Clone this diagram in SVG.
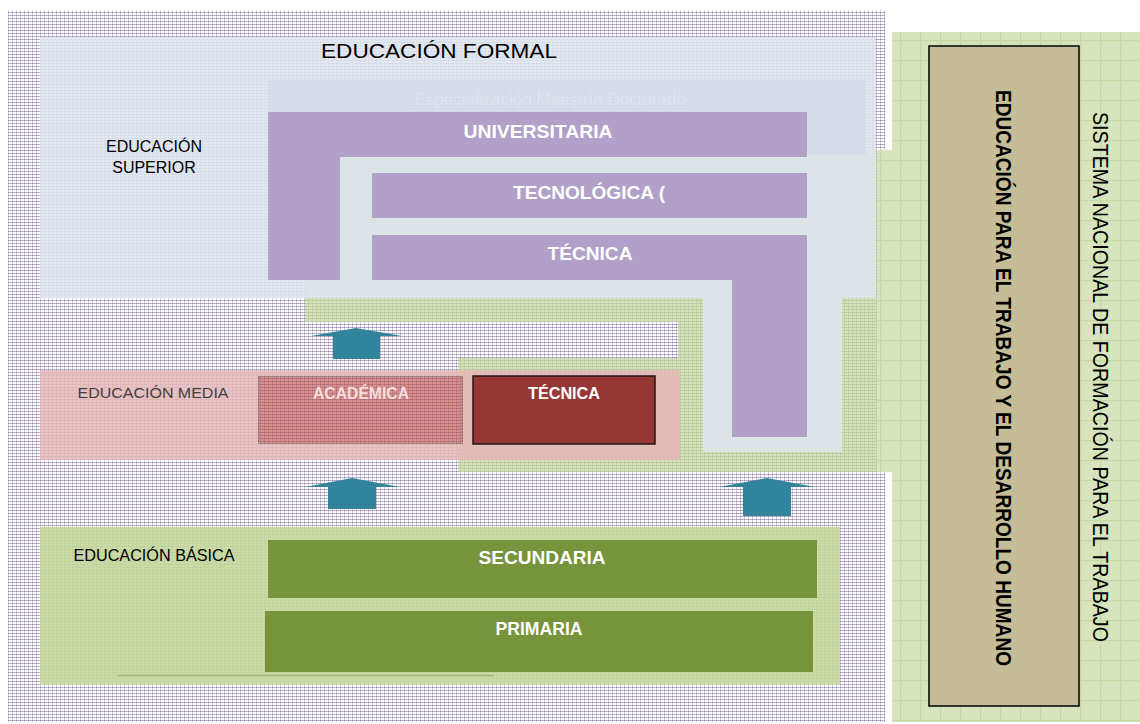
<svg xmlns="http://www.w3.org/2000/svg" width="1140" height="724" viewBox="0 0 1140 724">
<defs>
<pattern id="tex" width="4" height="3" patternUnits="userSpaceOnUse">
<rect width="4" height="3" fill="#ffffff"/>
<rect x="0" y="0" width="4" height="1" fill="#c4bdd2"/>
<rect x="0" y="0" width="1" height="3" fill="#d2ccdd"/>
<rect x="0" y="0" width="1" height="1" fill="#8f86a6"/>
<rect x="2" y="0" width="1" height="1" fill="#a69ebb"/>
</pattern>
<pattern id="gridg" width="20" height="20" patternUnits="userSpaceOnUse">
<rect width="20" height="20" fill="#d7e4bd"/>
<rect x="0" y="0" width="20" height="1.2" fill="#c6d8a3"/>
<rect x="0" y="0" width="1.2" height="20" fill="#c6d8a3"/>
</pattern>
<style>
.lbl{font-family:"Liberation Sans",Arial,sans-serif;fill:#000}
.bw{font-family:"Liberation Sans",Arial,sans-serif;font-weight:bold;fill:#ffffff;text-anchor:middle}
.purple{fill:#b1a0c7}
.olive{fill:#77933c}
</style>
</defs>
<rect width="1140" height="724" fill="#ffffff"/>
<rect x="8" y="10" width="877" height="712" fill="url(#tex)"/>

<!-- green layer behind -->
<path d="M305,150 H885 V472 H458 V358 H678 V322 H305 Z" fill="#c4d79b" opacity="0.72"/>

<g id="educacion-formal">
<path d="M40,37 H876 V298 H842 V452 H703 V298 H40 Z" fill="#dde5ee" opacity="0.88"/>
<path d="M268,80 H866 V155 H807 V112 H268 Z" fill="#d3d7e8" opacity="0.6"/>
<text x="550" y="105" font-family="Liberation Sans, Arial, sans-serif" font-size="17" fill="#e4e8f2" text-anchor="middle" opacity="0.6">Especialización Maestría Doctorado</text>
<text class="lbl" x="439" y="58" font-size="21" text-anchor="middle" textLength="236" lengthAdjust="spacingAndGlyphs">EDUCACIÓN FORMAL</text>
</g>

<g id="educacion-superior">
<text class="lbl" x="154" y="152" font-size="16" text-anchor="middle">EDUCACIÓN</text>
<text class="lbl" x="154" y="173" font-size="16" text-anchor="middle">SUPERIOR</text>
</g>

<g id="universitaria">
<path class="purple" d="M268,112 H807 V157 H340 V280 H268 Z"/>
<text class="bw" x="538" y="138" font-size="19" textLength="149" lengthAdjust="spacingAndGlyphs">UNIVERSITARIA</text>
</g>

<g id="tecnologica">
<rect class="purple" x="372" y="173" width="435" height="45"/>
<text class="bw" x="589" y="199" font-size="18.5" textLength="152" lengthAdjust="spacingAndGlyphs">TECNOLÓGICA (</text>
</g>

<g id="tecnica-superior">
<path class="purple" d="M372,235 H807 V437 H732 V280 H372 Z"/>
<text class="bw" x="590" y="260" font-size="19" textLength="85" lengthAdjust="spacingAndGlyphs">TÉCNICA</text>
</g>

<g id="educacion-media">
<rect x="40" y="370" width="640" height="90" fill="#e6b9b8" opacity="0.85"/>
<text x="153" y="398" font-family="Liberation Sans, Arial, sans-serif" font-size="15" fill="#404040" text-anchor="middle" textLength="151" lengthAdjust="spacingAndGlyphs">EDUCACIÓN MEDIA</text>
</g>

<g id="academica">
<rect x="258.5" y="376.5" width="204" height="67" fill="url(#tex)"/>
<rect x="258.5" y="376.5" width="204" height="67" fill="#c0504d" opacity="0.62" stroke="#3a2a2a" stroke-width="1" stroke-dasharray="2,1"/>
<text x="361" y="399" font-family="Liberation Sans, Arial, sans-serif" font-weight="bold" font-size="16" fill="#f4dedd" text-anchor="middle" textLength="96" lengthAdjust="spacingAndGlyphs">ACADÉMICA</text>
</g>

<g id="tecnica-media">
<rect x="473" y="376" width="182" height="68" fill="#953735" stroke="#2a1414" stroke-width="1.5"/>
<text class="bw" x="564" y="399" font-size="16" textLength="72" lengthAdjust="spacingAndGlyphs">TÉCNICA</text>
</g>

<g id="educacion-basica">
<rect x="40" y="527" width="800" height="158" fill="#c4d79b" opacity="0.9"/>
<line x1="118" y1="675.5" x2="494" y2="675.5" stroke="#9fb477" stroke-width="1.5"/>
<text class="lbl" x="154" y="561" font-size="16" text-anchor="middle" textLength="161" lengthAdjust="spacingAndGlyphs">EDUCACIÓN BÁSICA</text>
</g>

<g id="secundaria">
<rect class="olive" x="268" y="540" width="549" height="58"/>
<text class="bw" x="542" y="564" font-size="19" textLength="127" lengthAdjust="spacingAndGlyphs">SECUNDARIA</text>
</g>

<g id="primaria">
<rect class="olive" x="265" y="611" width="548" height="61"/>
<text class="bw" x="539" y="635" font-size="17.5" textLength="87" lengthAdjust="spacingAndGlyphs">PRIMARIA</text>
</g>

<g id="connectors" fill="#31849b">
<path d="M311,336 L356,328 L402,336 H380 V359 H333 V336 Z"/>
<path d="M305,487 L352,478 L400,487 H376 V509 H328 V487 Z"/>
<path d="M719,487 L767,478 L815,487 H791 V516 H743 V487 Z"/>
</g>

<g id="sistema-nacional">
<path d="M892,32 H1140 V722 H892 V472 H877 V150 H892 Z" fill="url(#gridg)"/>
<text x="1093" y="377" transform="rotate(90 1093 377)" font-family="Liberation Sans, Arial, sans-serif" font-size="22" fill="#000" text-anchor="middle" textLength="530" lengthAdjust="spacingAndGlyphs">SISTEMA NACIONAL DE FORMACIÓN PARA EL TRABAJO</text>
</g>

<g id="educacion-trabajo">
<rect x="929" y="46" width="150" height="660" fill="#c4bd97" stroke="#000" stroke-width="1.5"/>
<text x="996" y="378" transform="rotate(90 996 378)" font-family="Liberation Sans, Arial, sans-serif" font-weight="bold" font-size="21.5" fill="#000" text-anchor="middle" textLength="576" lengthAdjust="spacingAndGlyphs">EDUCACIÓN PARA EL TRABAJO Y EL DESARROLLO HUMANO</text>
</g>
</svg>
